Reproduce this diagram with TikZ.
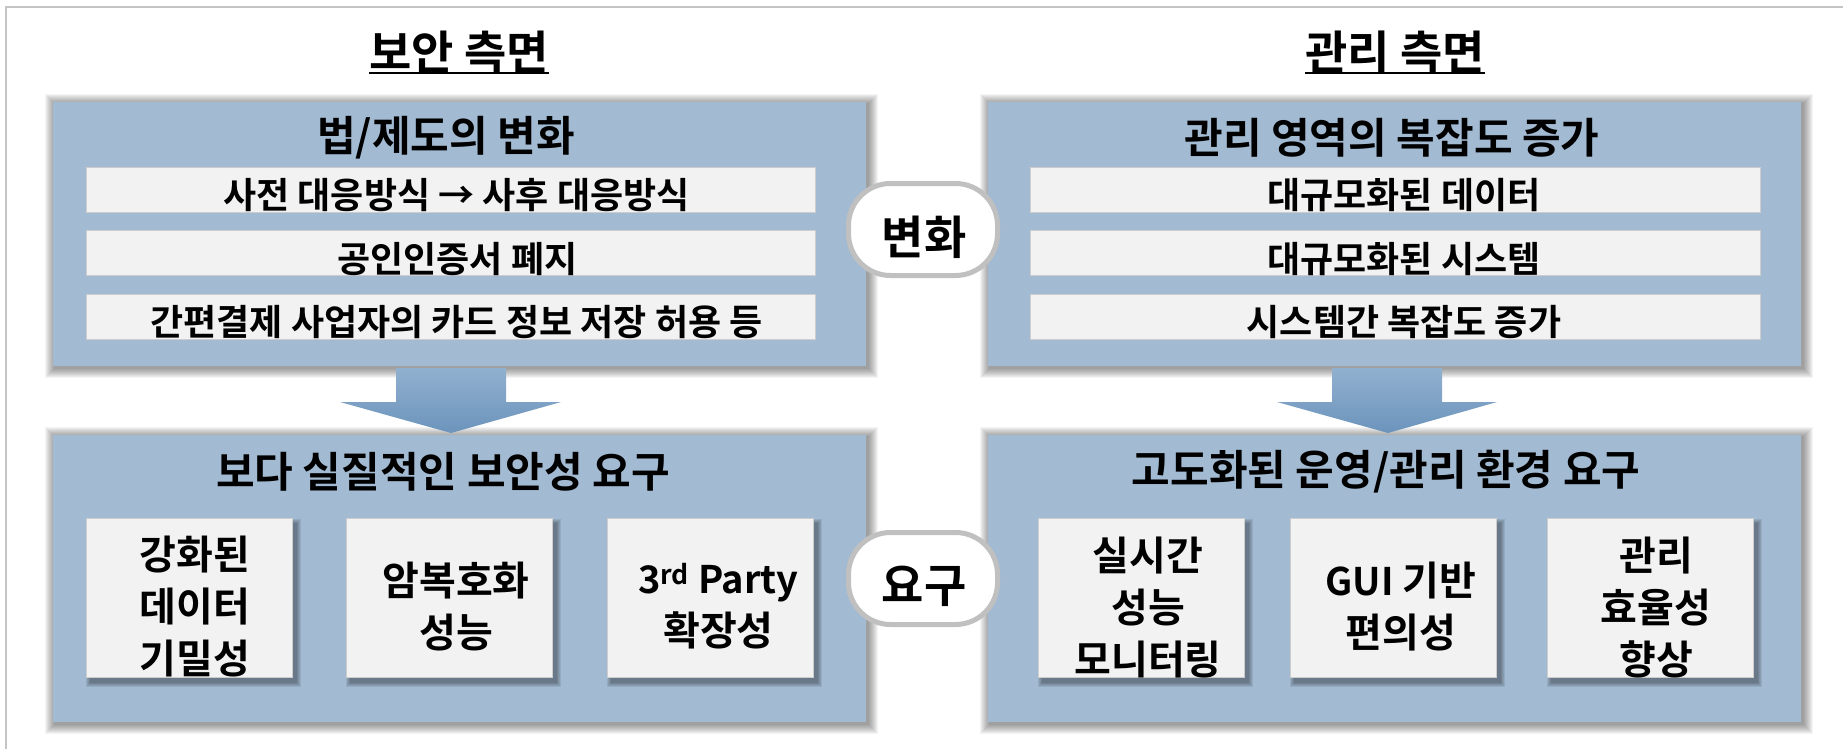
\documentclass[tikz,border=0pt]{standalone}
\usepackage{fontspec}
\setmainfont{Noto Sans CJK KR}[BoldFont={* Bold}]
\usetikzlibrary{calc}
\definecolor{boxblue}{RGB}{162,186,210}
\definecolor{barfill}{RGB}{242,242,242}
\definecolor{barline}{RGB}{205,205,205}
\definecolor{pillline}{RGB}{192,192,192}
\definecolor{frameline}{RGB}{196,196,196}
\definecolor{arrtop}{RGB}{145,176,207}
\definecolor{arrbot}{RGB}{108,148,188}
\pgfdeclarelayer{glow}
\pgfdeclarelayer{base}
\pgfdeclarelayer{drop}
\pgfsetlayers{glow,base,drop,main}
\begin{document}
\begin{tikzpicture}[x=1pt,y=-1pt,
  bigbox/.style={fill=boxblue, draw=none, minimum width=813pt, inner sep=0pt},
  bar/.style={fill=barfill, draw=barline, line width=1pt, minimum width=729pt, minimum height=45pt, inner sep=0pt},
  subbox/.style={fill=barfill, draw=barline, line width=1pt, minimum width=206pt, minimum height=159pt, inner sep=0pt},
  pill/.style={fill=white, draw=pillline, line width=5pt, rounded corners=42pt, minimum width=149pt, minimum height=92pt, inner sep=0pt},
  titletext/.style={font=\fontsize{46}{54}\selectfont\bfseries, inner sep=0pt},
  headtext/.style={font=\fontsize{42}{50}\selectfont\bfseries, inner sep=0pt},
  bartext/.style={font=\fontsize{36}{42}\selectfont\bfseries, inner sep=0pt},
  subtext/.style={font=\fontsize{40}{52}\selectfont\bfseries, inner sep=0pt, align=center},
  pilltext/.style={font=\fontsize{46}{54}\selectfont\bfseries, inner sep=0pt},
  blockarrow/.style={top color=arrtop, bottom color=arrbot, draw=none}
]
\useasboundingbox (0,0) rectangle (1843,749);
\begin{pgfonlayer}{glow}
\fill[white] (0,0) rectangle (1843,749);
\end{pgfonlayer}
% frame
\draw[frameline, line width=2.5pt] (6,749) -- (6,7) -- (1843,7);

% titles
\node[titletext] (t1) at (459,52) {보안 측면};
\node[titletext] (t2) at (1395,52) {관리 측면};
\coordinate (ul) at (0,73);
\draw[line width=2.5pt] (t1.west |- ul) -- (t1.east |- ul);
\draw[line width=2.5pt] (t2.west |- ul) -- (t2.east |- ul);

% big boxes
\begin{pgfonlayer}{base}
\node[bigbox, minimum height=264pt] (TL) at (459.5,234) {};
\node[bigbox, minimum height=264pt] (TR) at (1394.5,234) {};
\node[bigbox, minimum height=287pt] (BL) at (459.5,578.5) {};
\node[bigbox, minimum height=287pt] (BR) at (1394.5,578.5) {};
\end{pgfonlayer}

% glows
\begin{pgfonlayer}{glow}
\foreach \n in {TL,TR,BL,BR}{
  \foreach \k in {1,...,10}{
    \fill[black,opacity=0.045] ([shift={(-\k+2,-\k+2)}]\n.north west) rectangle ([shift={(\k+2,\k+2)}]\n.south east);
  }
}
% block arrows
\shade[blockarrow] (396,368) -- (506,368) -- (506,402) -- (561,402) -- (451,433) -- (340,402) -- (396,402) -- cycle;
\shade[blockarrow] (1332,368) -- (1442,368) -- (1442,402) -- (1497,402) -- (1388,433) -- (1277,402) -- (1332,402) -- cycle;
\end{pgfonlayer}

% headers
\node[headtext] (h1) at (446,138) {법/제도의 변화};
\node[headtext] (h2) at (1392,138) {관리 영역의 복잡도 증가};
\node[headtext] (h3) at (443,472) {보다 실질적인 보안성 요구};
\node[headtext] (h4) at (1386,472) {고도화된 운영/관리 환경 요구};

% bars
\node[bar] (b1) at (450.5,189.5) {};
\node[bar] (b2) at (450.5,253) {};
\node[bar] (b3) at (450.5,316.5) {};
\node[bar, minimum width=730pt] (b4) at (1395,189.5) {};
\node[bar, minimum width=730pt] (b5) at (1395,253) {};
\node[bar, minimum width=730pt] (b6) at (1395,316.5) {};
\node[bartext] at ([shift={(6,6)}]b1.center) {사전 대응방식 → 사후 대응방식};
\node[bartext] at ([shift={(7,6)}]b2.center) {공인인증서 폐지};
\node[bartext] at ([shift={(6,6)}]b3.center) {간편결제 사업자의 카드 정보 저장 허용 등};
\node[bartext] at ([shift={(9,6)}]b4.center) {대규모화된 데이터};
\node[bartext] at ([shift={(9,6)}]b5.center) {대규모화된 시스템};
\node[bartext] at ([shift={(9,6)}]b6.center) {시스템간 복잡도 증가};

% sub boxes
\node[subbox] (s1) at (189,597.5) {};
\node[subbox] (s2) at (449,597.5) {};
\node[subbox] (s3) at (710.5,597.5) {};
\node[subbox] (s4) at (1141,597.5) {};
\node[subbox] (s5) at (1393,597.5) {};
\node[subbox] (s6) at (1650,597.5) {};
\begin{pgfonlayer}{drop}
\foreach \n in {s1,s2,s3,s4,s5,s6}{
  \foreach \k in {0,...,4}{
    \fill[black,opacity=0.08] ([shift={(4-\k,5-\k)}]\n.north west) rectangle ([shift={(4+\k,5+\k)}]\n.south east);
  }
}
\end{pgfonlayer}
\node[subtext] at ([shift={(6,9)}]s1.center) {강화된\\데이터\\기밀성};
\node[subtext] at ([shift={(7,9)}]s2.center) {암복호화\\성능};
\node[subtext] at ([shift={(8,9)}]s3.center) {{\fontsize{38}{52}\selectfont 3\textsuperscript{rd} Party}\\확장성};
\node[subtext] at ([shift={(7,10)}]s4.center) {실시간\\성능\\모니터링};
\node[subtext] at ([shift={(8,9)}]s5.center) {{\fontsize{38}{52}\selectfont GUI} 기반\\편의성};
\node[subtext] at ([shift={(6,10)}]s6.center) {관리\\효율성\\향상};

% pills
\node[pill] (p1) at (923,229.5) {};
\node[pill] (p2) at (923,578.5) {};
\node[pilltext] at ([shift={(1,8)}]p1.center) {변화};
\node[pilltext] at ([shift={(1,8)}]p2.center) {요구};
\end{tikzpicture}
\end{document}
